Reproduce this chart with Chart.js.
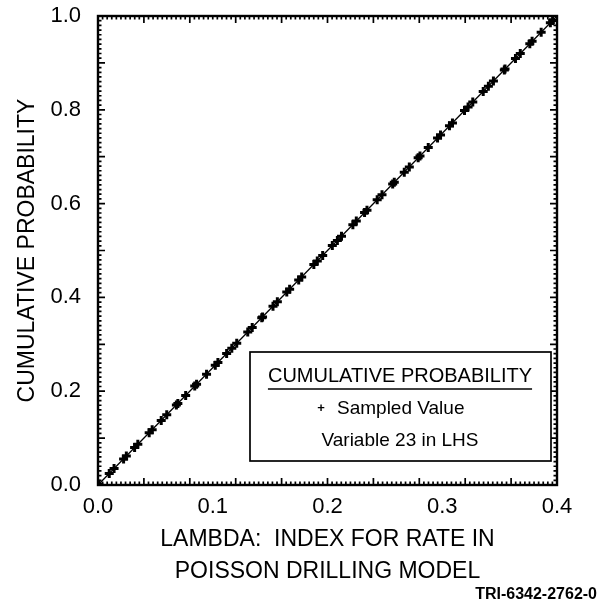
<!DOCTYPE html>
<html lang="en">
<head>
  <meta charset="UTF-8">
  <title>Cumulative Probability - Variable 23 in LHS</title>
  <script src="https://cdn.jsdelivr.net/npm/chart.js"></script>
  <style>
    body {
      margin: 0;
      background: #ffffff;
    }
    #wrap {
      width: 612px;
      height: 602px;
    }
  </style>
</head>
<body>

<div id="wrap">
  <canvas id="cdfChart" width="612" height="602"></canvas>
</div>

<script>
  // sampled values of lambda (LHS, 70 samples) and their cumulative probability
  const sampledLambda = [
    0.0007, 0.0098, 0.0140, 0.0223, 0.0247, 0.0319, 0.0347, 0.0446, 0.0472, 0.0551,
    0.0599, 0.0683, 0.0696, 0.0764, 0.0843, 0.0859, 0.0946, 0.1022, 0.1045, 0.1121,
    0.1166, 0.1209, 0.1305, 0.1344, 0.1427, 0.1434, 0.1525, 0.1563, 0.1645, 0.1670,
    0.1749, 0.1775, 0.1881, 0.1911, 0.1958, 0.2042, 0.2086, 0.2122, 0.2221, 0.2251,
    0.2323, 0.2344, 0.2433, 0.2475, 0.2568, 0.2582, 0.2669, 0.2713, 0.2790, 0.2806,
    0.2878, 0.2959, 0.2985, 0.3063, 0.3089, 0.3194, 0.3225, 0.3266, 0.3357, 0.3402,
    0.3446, 0.3541, 0.3547, 0.3638, 0.3680, 0.3763, 0.3783, 0.3862, 0.3942, 0.3962
  ];
  const sampledProb = [
    0.0017, 0.0244, 0.0350, 0.0557, 0.0619, 0.0797, 0.0867, 0.1116, 0.1180, 0.1377,
    0.1499, 0.1707, 0.1740, 0.1910, 0.2109, 0.2147, 0.2364, 0.2554, 0.2613, 0.2803,
    0.2916, 0.3021, 0.3263, 0.3360, 0.3567, 0.3584, 0.3811, 0.3907, 0.4113, 0.4174,
    0.4371, 0.4437, 0.4703, 0.4777, 0.4896, 0.5104, 0.5214, 0.5306, 0.5551, 0.5627,
    0.5809, 0.5860, 0.6081, 0.6187, 0.6420, 0.6456, 0.6671, 0.6781, 0.6976, 0.7016,
    0.7194, 0.7397, 0.7463, 0.7659, 0.7721, 0.7984, 0.8061, 0.8166, 0.8391, 0.8504,
    0.8614, 0.8851, 0.8869, 0.9096, 0.9200, 0.9407, 0.9459, 0.9654, 0.9856, 0.9906
  ];
  // theoretical (uniform) cdf end points
  const cdfLambda = [0.0, 0.4];
  const cdfProb = [0.0, 1.0];

  const xTicks = [0.0, 0.1, 0.2, 0.3, 0.4];
  const yTicks = [0.0, 0.2, 0.4, 0.6, 0.8, 1.0];

  const legendTitle = 'CUMULATIVE PROBABILITY';
  const legendSeries = 'Sampled Value';
  const legendNote = 'Variable 23 in LHS';
  const figureId = 'TRI-6342-2762-0';

  const FONT = "'Liberation Sans', Arial, Helvetica, sans-serif";

  // inward tick marks + frame around plot area
  const frameTicks = {
    id: 'frameTicks',
    afterDatasetsDraw(chart) {
      const { ctx, chartArea: a, scales: { x, y } } = chart;
      ctx.save();
      ctx.strokeStyle = '#000';
      ctx.lineWidth = 1.7;
      // y ticks: minor 0.01, long 0.1
      for (let i = 0; i <= 100; i++) {
        const py = y.getPixelForValue(i / 100);
        const len = i % 10 === 0 ? 7 : 3.5;
        ctx.beginPath();
        ctx.moveTo(a.left, py); ctx.lineTo(a.left + len, py);
        ctx.moveTo(a.right, py); ctx.lineTo(a.right - len, py);
        ctx.stroke();
      }
      // x ticks: minor 0.004, long 0.04
      for (let i = 0; i <= 100; i++) {
        const px = x.getPixelForValue(i * 0.004);
        const len = i % 10 === 0 ? 7 : 3.5;
        ctx.beginPath();
        ctx.moveTo(px, a.bottom); ctx.lineTo(px, a.bottom - len);
        ctx.moveTo(px, a.top); ctx.lineTo(px, a.top + len);
        ctx.stroke();
      }
      ctx.lineWidth = 2.4;
      ctx.strokeRect(a.left, a.top, a.right - a.left, a.bottom - a.top);
      ctx.restore();
    }
  };

  // boxed legend and figure id
  const boxLegend = {
    id: 'boxLegend',
    afterDraw(chart) {
      const { ctx } = chart;
      ctx.save();
      ctx.strokeStyle = '#000';
      ctx.fillStyle = '#fff';
      ctx.lineWidth = 1.7;
      ctx.fillRect(250, 352, 301, 109);
      ctx.strokeRect(250, 352, 301, 109);

      ctx.fillStyle = '#000';
      ctx.textAlign = 'center';
      ctx.textBaseline = 'middle';
      ctx.font = '20px ' + FONT;
      ctx.fillText(legendTitle, 400, 376);
      const w = ctx.measureText(legendTitle).width;
      ctx.lineWidth = 1.6;
      ctx.beginPath();
      ctx.moveTo(400 - w / 2, 389); ctx.lineTo(400 + w / 2, 389);
      ctx.stroke();

      ctx.font = '19px ' + FONT;
      ctx.textAlign = 'left';
      ctx.fillText(legendSeries, 337, 409);
      ctx.textAlign = 'center';
      ctx.font = 'bold 13px ' + FONT;
      ctx.fillText('+', 321, 408);
      ctx.font = '19px ' + FONT;
      ctx.fillText(legendNote, 400, 441);

      ctx.font = 'bold 16px ' + FONT;
      ctx.textAlign = 'right';
      ctx.fillText(figureId, 597, 595);
      ctx.restore();
    }
  };

  function loadChart() {
    new Chart(document.getElementById('cdfChart'), {
      type: 'scatter',
      data: {
        datasets: [
          {
            label: 'CDF',
            type: 'line',
            data: cdfLambda.map((v, i) => ({ x: v, y: cdfProb[i] })),
            borderColor: '#000',
            borderWidth: 1.3,
            pointRadius: 0,
            fill: false
          },
          {
            label: legendSeries,
            data: sampledLambda.map((v, i) => ({ x: v, y: sampledProb[i] })),
            pointStyle: 'cross',
            pointRadius: 4.5,
            borderColor: '#000',
            backgroundColor: '#000',
            borderWidth: 3
          }
        ]
      },
      options: {
        responsive: false,
        animation: false,
        layout: { padding: { left: 0, top: 16, right: 55, bottom: 0 } },
        plugins: {
          legend: { display: false },
          tooltip: { enabled: false }
        },
        scales: {
          x: {
            type: 'linear',
            min: 0,
            max: 0.4,
            afterFit(scale) { scale.height = 117; },
            afterBuildTicks(scale) { scale.ticks = xTicks.map(v => ({ value: v })); },
            grid: { display: false, drawTicks: false },
            border: { display: false },
            ticks: {
              color: '#000',
              padding: 9,
              maxRotation: 0,
              font: { family: FONT, size: 22 },
              callback: v => v.toFixed(1)
            },
            title: {
              display: true,
              text: ['LAMBDA:  INDEX FOR RATE IN', 'POISSON DRILLING MODEL'],
              color: '#000',
              font: { family: FONT, size: 23, lineHeight: 1.39 },
              padding: { top: 0, bottom: 14 }
            }
          },
          y: {
            type: 'linear',
            min: 0,
            max: 1,
            afterFit(scale) {
              scale.width = 98;
              scale.paddingTop = 0;
              scale.paddingBottom = 0;
            },
            afterBuildTicks(scale) { scale.ticks = yTicks.map(v => ({ value: v })); },
            grid: { display: false, drawTicks: false },
            border: { display: false },
            ticks: {
              color: '#000',
              padding: 17,
              font: { family: FONT, size: 22 },
              callback: v => v.toFixed(1)
            },
            title: {
              display: true,
              text: 'CUMULATIVE PROBABILITY',
              color: '#000',
              font: { family: FONT, size: 23, lineHeight: 1.2 },
              padding: { top: 14, bottom: 0 }
            }
          }
        }
      },
      plugins: [frameTicks, boxLegend]
    });
  }

  window.onload = loadChart;
</script>

</body>
</html>
